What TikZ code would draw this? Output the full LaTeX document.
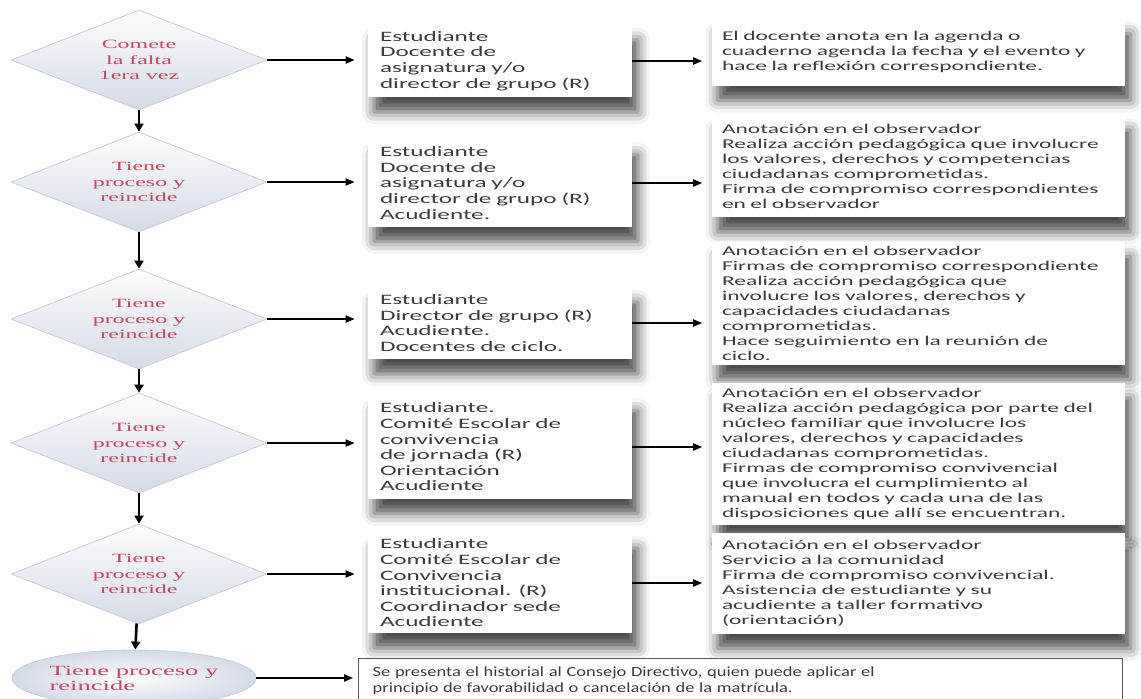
\documentclass[tikz,border=0pt]{standalone}
\usepackage{fontspec}
\setmainfont{Liberation Serif}
\newfontfamily\boxfont[FakeStretch=1.75]{Carlito}
\newfontfamily\flatboxfont[FakeStretch=1.32]{Carlito}
\newfontfamily\diamfont[FakeStretch=1.9]{Liberation Serif}
\usetikzlibrary{arrows.meta,shapes.geometric,shadows.blur}

\definecolor{diamtext}{RGB}{196,72,98}
\definecolor{diamtop}{RGB}{253,253,254}
\definecolor{diambot}{RGB}{212,218,230}
\definecolor{diamline}{RGB}{200,206,218}
\definecolor{boxtext}{RGB}{60,60,60}

\begin{document}
\begin{tikzpicture}[
  x=0.5pt, y=-0.5pt,
  decision/.style={diamond, aspect=2.56, minimum width=128pt, minimum height=50pt,
    inner sep=0pt, top color=diamtop, bottom color=diambot, draw=diamline,
    font=\diamfont\fontsize{6.3}{7.6}\selectfont, text=diamtext, align=center},
  lastcase/.style={ellipse, minimum width=122pt, minimum height=28pt, inner sep=0pt,
    inner color=diamtop, outer color=diambot, draw=diamline,
    font=\diamfont\fontsize{7}{7.5}\selectfont, text=diamtext, align=left},
  whobox/.style={rectangle, fill=white, text width=120pt, inner xsep=6pt, inner ysep=2pt,
    align=left, font=\boxfont\fontsize{7.2}{7.8}\selectfont, text=boxtext,
    blur shadow={shadow xshift=3pt, shadow yshift=-7.5pt, shadow blur radius=6pt, shadow opacity=70}},
  actbox/.style={whobox, text width=196pt, inner xsep=5.25pt,
    font=\boxfont\fontsize{6.7}{7.5}\selectfont},
  finalbox/.style={rectangle, draw=black!65, line width=0.7pt, fill=white,
    text width=368pt, inner xsep=7pt, inner ysep=4pt, align=left,
    font=\flatboxfont\fontsize{7}{8}\selectfont, text=boxtext},
  downarr/.style={-{Triangle[length=4pt, width=4.5pt]}, line width=1.3pt},
  sidearr/.style={-{Triangle[length=4.5pt, width=3.6pt]}, line width=0.7pt}
]
\useasboundingbox (0,0) rectangle (1141,698);

% left column: cases
\node[decision] (d1) at (139,60) {Comete\\la falta\\1era vez};
\node[decision] (d2) at (139,182) {Tiene\\proceso y\\reincide};
\node[decision] (d3) at (139,319) {Tiene\\proceso y\\reincide};
\node[decision] (d4) at (139,443) {Tiene\\proceso y\\reincide};
\node[decision] (d5) at (139,574) {Tiene\\proceso y\\reincide};
\node[lastcase] (d6) at (134,678) {Tiene proceso y\\reincide};

% middle column: who takes part
\node[whobox, minimum height=36pt] (m1) at (500,61)
  {Estudiante\\Docente de\\asignatura y/o\\director de grupo (R)};
\node[whobox, minimum height=43.5pt] (m2) at (500,183)
  {Estudiante\\Docente de\\asignatura y/o\\director de grupo (R)\\Acudiente.};
\node[whobox, minimum height=36pt] (m3) at (500,323)
  {Estudiante\\Director de grupo (R)\\Acudiente.\\Docentes de ciclo.};
\node[whobox, minimum height=51.5pt] (m4) at (500,447)
  {Estudiante.\\Comité Escolar de\\convivencia\\de jornada (R)\\Orientación\\Acudiente};
\node[whobox, minimum height=50pt] (m5) at (500,583)
  {Estudiante\\Comité Escolar de\\Convivencia\\institucional. (R)\\Coordinador sede\\Acudiente};

% right column: actions
\node[actbox, minimum height=33.5pt] (r1) at (918,52)
  {El docente anota en la agenda o\\cuaderno agenda la fecha y el evento y\\hace la reflexión correspondiente.};
\node[actbox, minimum height=51pt] (r2) at (918,166)
  {Anotación en el observador\\Realiza acción pedagógica que involucre\\los valores, derechos y competencias\\ciudadanas comprometidas.\\Firma de compromiso correspondientes\\en el observador};
\node[actbox, minimum height=61.5pt] (r3) at (918,303)
  {Anotación en el observador\\Firmas de compromiso correspondiente\\Realiza acción pedagógica que\\involucre los valores, derechos y\\capacidades ciudadanas\\comprometidas.\\Hace seguimiento en la reunión de\\ciclo.};
\node[actbox, minimum height=71pt] (r4) at (918,454)
  {Anotación en el observador\\Realiza acción pedagógica por parte del\\núcleo familiar que involucre los\\valores, derechos y capacidades\\ciudadanas comprometidas.\\Firmas de compromiso convivencial\\que involucra el cumplimiento al\\manual en todos y cada una de las\\disposiciones que allí se encuentran.};
\node[actbox, minimum height=50.5pt] (r5) at (918,583)
  {Anotación en el observador\\Servicio a la comunidad\\Firma de compromiso convivencial.\\Asistencia de estudiante y su\\acudiente a taller formativo\\(orientación)};

\node[finalbox, anchor=north west] (r6) at (358,658)
  {Se presenta el historial al Consejo Directivo, quien puede aplicar el\\principio de favorabilidad o cancelación de la matrícula.};

% flow down
\draw[downarr] (d1) -- (d2);
\draw[downarr] (d2) -- (d3);
\draw[downarr] (d3) -- (d4);
\draw[downarr] (d4) -- (d5);
\draw[downarr] (d5) -- (d6);

% rows
\foreach \i in {1,...,5}{
  \draw[sidearr, shorten >=6.5pt] (d\i) -- (d\i -| m\i.west);
  \draw[sidearr, shorten >=4.5pt] (m\i.east) -- (m\i.east -| r\i.west);
}
\draw[sidearr, shorten >=2.5pt] (d6) -- (d6 -| r6.west);

\end{tikzpicture}
\end{document}
